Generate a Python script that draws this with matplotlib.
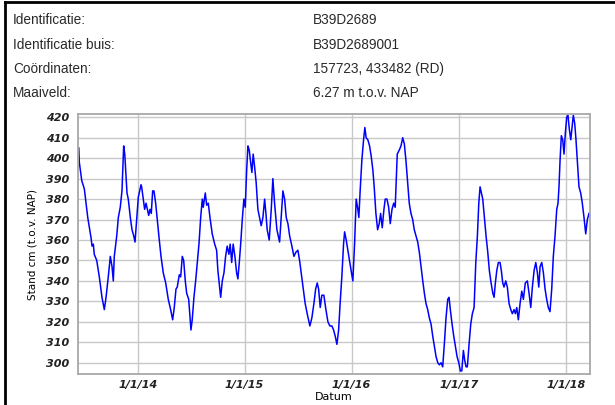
#!/usr/bin/env python3
from datetime import datetime

import matplotlib
matplotlib.use("Agg")
import matplotlib.pyplot as plt
from matplotlib.lines import Line2D

# well metadata shown above the chart
info_labels = ["Identificatie:", "Identificatie buis:", "Co\u00f6rdinaten:", "Maaiveld:"]
info_values = ["B39D2689", "B39D2689001", "157723, 433482 (RD)", "6.27 m t.o.v. NAP"]

# groundwater level, time as decimal year, level in cm t.o.v. NAP
years = [
    2013.449, 2013.454, 2013.477, 2013.501, 2013.533, 2013.564, 2013.573, 2013.585,
    2013.594, 2013.617, 2013.641, 2013.666, 2013.688, 2013.704, 2013.725, 2013.744,
    2013.760, 2013.772, 2013.781, 2013.804, 2013.819, 2013.837, 2013.853, 2013.869,
    2013.879, 2013.891, 2013.900, 2013.912, 2013.931, 2013.947, 2013.963, 2013.975,
    2013.991, 2014.006, 2014.031, 2014.037, 2014.052, 2014.065, 2014.078, 2014.090,
    2014.103, 2014.115, 2014.127, 2014.140, 2014.152, 2014.168, 2014.183, 2014.202,
    2014.218, 2014.239, 2014.262, 2014.286, 2014.308, 2014.327, 2014.342, 2014.358,
    2014.370, 2014.389, 2014.402, 2014.417, 2014.430, 2014.445, 2014.458, 2014.477,
    2014.489, 2014.498, 2014.510, 2014.526, 2014.542, 2014.557, 2014.573, 2014.589,
    2014.604, 2014.613, 2014.632, 2014.645, 2014.660, 2014.676, 2014.697, 2014.720,
    2014.738, 2014.750, 2014.766, 2014.776, 2014.791, 2014.807, 2014.822, 2014.837,
    2014.853, 2014.865, 2014.879, 2014.893, 2014.909, 2014.925, 2014.937, 2014.950,
    2014.963, 2014.978, 2014.993, 2015.006, 2015.019, 2015.031, 2015.043, 2015.056,
    2015.068, 2015.080, 2015.093, 2015.108, 2015.124, 2015.140, 2015.155, 2015.171,
    2015.187, 2015.199, 2015.211, 2015.230, 2015.249, 2015.264, 2015.280, 2015.302,
    2015.327, 2015.342, 2015.358, 2015.374, 2015.389, 2015.405, 2015.421, 2015.442,
    2015.461, 2015.479, 2015.498, 2015.514, 2015.529, 2015.548, 2015.566, 2015.585,
    2015.610, 2015.629, 2015.648, 2015.664, 2015.679, 2015.692, 2015.707, 2015.722,
    2015.741, 2015.760, 2015.779, 2015.797, 2015.816, 2015.832, 2015.847, 2015.863,
    2015.879, 2015.893, 2015.909, 2015.925, 2015.935, 2015.950, 2015.965, 2015.981,
    2015.996, 2016.012, 2016.028, 2016.043, 2016.056, 2016.068, 2016.080, 2016.096,
    2016.112, 2016.124, 2016.136, 2016.152, 2016.168, 2016.183, 2016.199, 2016.211,
    2016.227, 2016.243, 2016.258, 2016.271, 2016.286, 2016.302, 2016.314, 2016.330,
    2016.346, 2016.361, 2016.377, 2016.393, 2016.407, 2016.426, 2016.445, 2016.461,
    2016.477, 2016.492, 2016.507, 2016.523, 2016.538, 2016.554, 2016.570, 2016.585,
    2016.601, 2016.617, 2016.632, 2016.648, 2016.664, 2016.679, 2016.694, 2016.710,
    2016.725, 2016.741, 2016.757, 2016.772, 2016.788, 2016.804, 2016.819, 2016.835,
    2016.850, 2016.865, 2016.881, 2016.897, 2016.909, 2016.921, 2016.937, 2016.953,
    2016.968, 2016.984, 2017.000, 2017.015, 2017.028, 2017.043, 2017.056, 2017.068,
    2017.080, 2017.096, 2017.112, 2017.127, 2017.143, 2017.159, 2017.174, 2017.187,
    2017.199, 2017.211, 2017.224, 2017.239, 2017.255, 2017.271, 2017.286, 2017.302,
    2017.318, 2017.330, 2017.342, 2017.355, 2017.370, 2017.386, 2017.398, 2017.411,
    2017.423, 2017.439, 2017.454, 2017.470, 2017.486, 2017.501, 2017.517, 2017.529,
    2017.542, 2017.557, 2017.573, 2017.589, 2017.604, 2017.622, 2017.641, 2017.657,
    2017.673, 2017.688, 2017.704, 2017.720, 2017.735, 2017.748, 2017.760, 2017.776,
    2017.791, 2017.807, 2017.822, 2017.837, 2017.853, 2017.869, 2017.884, 2017.900,
    2017.916, 2017.928, 2017.937, 2017.947, 2017.959, 2017.972, 2017.984, 2017.996,
    2018.009, 2018.021, 2018.034, 2018.047, 2018.059, 2018.071, 2018.084, 2018.096,
    2018.108, 2018.124, 2018.140, 2018.155, 2018.171, 2018.187, 2018.202, 2018.218,
]
levels = [
    405, 398, 389, 385, 371, 361, 357, 358,
    353, 350, 342, 332, 326, 332, 342, 352,
    347, 340, 352, 362, 371, 376, 384, 406,
    402, 391, 383, 380, 371, 365, 362, 359,
    370, 381, 387, 386, 380, 375, 378, 375,
    372, 375, 373, 384, 384, 378, 370, 360,
    352, 344, 339, 331, 326, 321, 327, 336,
    337, 343, 342, 352, 350, 340, 334, 331,
    322, 316, 321, 332, 340, 349, 358, 371,
    380, 376, 383, 377, 378, 371, 363, 358,
    355, 345, 337, 332, 340, 344, 352, 357,
    353, 358, 349, 358, 352, 344, 341, 349,
    358, 370, 380, 376, 394, 406, 404, 398,
    393, 402, 396, 388, 375, 371, 367, 371,
    380, 373, 365, 360, 375, 390, 378, 365,
    359, 371, 384, 380, 371, 368, 362, 357,
    352, 354, 355, 350, 344, 336, 329, 324,
    318, 322, 329, 336, 339, 336, 327, 333,
    333, 326, 320, 318, 318, 316, 313, 309,
    316, 329, 342, 358, 364, 360, 355, 350,
    345, 340, 358, 380, 376, 371, 384, 399,
    409, 415, 410, 409, 406, 401, 394, 386,
    373, 365, 368, 373, 366, 375, 380, 380,
    376, 368, 375, 378, 376, 402, 404, 406,
    410, 407, 399, 388, 378, 373, 370, 365,
    362, 359, 354, 347, 340, 334, 329, 326,
    322, 319, 313, 308, 303, 300, 299, 300,
    298, 309, 322, 331, 332, 326, 319, 313,
    308, 303, 300, 296, 296, 306, 301, 298,
    298, 309, 319, 324, 327, 349, 362, 378,
    386, 383, 380, 371, 362, 354, 345, 339,
    334, 332, 339, 345, 349, 349, 345, 339,
    337, 340, 337, 329, 326, 324, 326, 324,
    327, 321, 329, 335, 331, 339, 340, 334,
    327, 337, 345, 349, 344, 337, 347, 349,
    344, 336, 331, 327, 325, 336, 352, 362,
    375, 378, 386, 399, 411, 409, 402, 412,
    420, 421, 414, 409, 415, 421, 417, 409,
    399, 386, 383, 378, 371, 363, 370, 373,
]

tick_years = [2014, 2015, 2016, 2017, 2018]
tick_labels = ["1/1/14", "1/1/15", "1/1/16", "1/1/17", "1/1/18"]
y_ticks = [300, 310, 320, 330, 340, 350, 360, 370, 380, 390, 400, 410, 420]


def to_date(t):
    y = int(t)
    start = datetime(y, 1, 1)
    return start + (datetime(y + 1, 1, 1) - start) * (t - y)


def main():
    dates = [to_date(t) for t in years]

    fig = plt.figure(figsize=(6.15, 4.05), dpi=100)
    fig.patch.set_facecolor("white")

    # black frame of the info panel (left and top edge)
    fig.add_artist(Line2D([5 / 615, 5 / 615], [0, 1 - 2 / 405], color="black", lw=2))
    fig.add_artist(Line2D([5 / 615, 1], [1 - 2 / 405, 1 - 2 / 405], color="black", lw=2))

    row_y = [20, 45, 69, 93]
    for lab, val, y in zip(info_labels, info_values, row_y):
        fig.text(13 / 615, 1 - y / 405, lab, family="Liberation Sans", fontsize=9.8,
                 color="#2a2a2a", va="center", ha="left")
        fig.text(313 / 615, 1 - y / 405, val, family="Liberation Sans", fontsize=9.8,
                 color="#2a2a2a", va="center", ha="left")

    ax = fig.add_axes([77.7 / 615, 1 - 374 / 405, (590 - 77.7) / 615, (374 - 114) / 405])
    ax.plot(dates, levels, color="#0000ff", lw=1.1)

    ax.set_xlim(to_date(2013.439), to_date(2018.227))
    ax.set_ylim(294.5, 421.6)
    ax.set_xticks([datetime(y, 1, 1) for y in tick_years])
    ax.set_xticklabels(tick_labels)
    ax.set_yticks(y_ticks)

    for lab in ax.get_xticklabels() + ax.get_yticklabels():
        lab.set_fontweight("bold")
        lab.set_fontstyle("italic")
        lab.set_fontsize(8)
        lab.set_color("#222222")
    ax.tick_params(axis="both", length=0)
    ax.tick_params(axis="y", pad=6)
    ax.tick_params(axis="x", pad=4)

    ax.grid(True, color="#c8c8c8", lw=1)
    ax.set_axisbelow(True)
    for sp in ax.spines.values():
        sp.set_color("#a8a8a8")
        sp.set_linewidth(1.3)

    ax.set_xlabel("Datum", fontsize=8, labelpad=2)
    ax.set_ylabel("Stand cm (t.o.v. NAP)", fontsize=7.5, labelpad=6)

    fig.savefig("out.png", dpi=100)


if __name__ == "__main__":
    main()
